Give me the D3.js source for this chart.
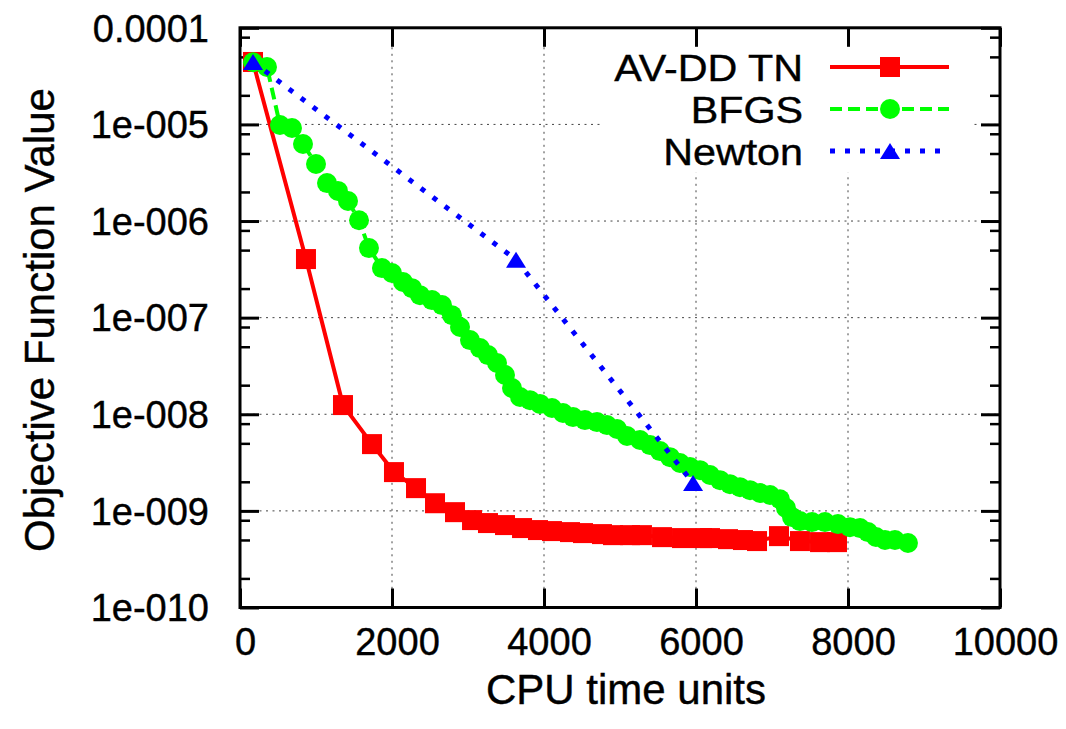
<!DOCTYPE html>
<html>
<head>
<meta charset="utf-8">
<script src="https://cdn.jsdelivr.net/npm/d3@7"></script>
<style>
  html, body { margin: 0; padding: 0; background: #fff; }
  svg { display: block; }
  text { font-family: "Liberation Sans", Arial, Helvetica, sans-serif; fill: #000; stroke: #000; stroke-width: 0.4px; }
</style>
</head>
<body>
<svg id="chart" width="1066" height="729"></svg>
<script>
// ---------- data ----------
const seriesNames = ["AV-DD TN", "BFGS", "Newton"];
const seriesColors = ["#ff0000", "#00ff00", "#0000ff"];

const avddX = [171, 868, 1355, 1737, 2026, 2316, 2566, 2829, 3053, 3263, 3487, 3711, 3921, 4105, 4342, 4513, 4763, 4908, 5132, 5289, 5553, 5816, 6079, 6184, 6421, 6618, 6803, 7092, 7368, 7632, 7855];
const avddY = [4.43e-5, 4.04e-7, 1.245e-8, 4.91e-9, 2.52e-9, 1.72e-9, 1.20e-9, 9.7e-10, 8.03e-10, 7.48e-10, 7.13e-10, 6.64e-10, 6.33e-10, 6.18e-10, 6.03e-10, 5.89e-10, 5.75e-10, 5.61e-10, 5.61e-10, 5.61e-10, 5.35e-10, 5.23e-10, 5.23e-10, 5.23e-10, 5.1e-10, 4.99e-10, 4.87e-10, 5.48e-10, 4.87e-10, 4.75e-10, 4.75e-10];

const bfgsX = [171, 355, 526, 684, 829, 1000, 1145, 1289, 1421, 1566, 1697, 1868, 2000, 2145, 2263, 2368, 2526, 2658, 2789, 2895, 3026, 3158, 3263, 3382, 3487, 3579, 3684, 3816, 3947, 4105, 4250, 4382, 4539, 4697, 4829, 4961, 5092, 5263, 5395, 5526, 5658, 5789, 5921, 6053, 6184, 6316, 6447, 6579, 6711, 6842, 6974, 7105, 7184, 7263, 7368, 7526, 7697, 7868, 8026, 8158, 8263, 8368, 8487, 8618, 8789];
const bfgsY = [4.4e-5, 3.93e-5, 9.86e-6, 9.18e-6, 6.27e-6, 3.89e-6, 2.47e-6, 2.05e-6, 1.61e-6, 1.02e-6, 5.25e-7, 3.26e-7, 2.90e-7, 2.34e-7, 2.02e-7, 1.71e-7, 1.52e-7, 1.35e-7, 1.06e-7, 8.0e-8, 5.86e-8, 4.84e-8, 4.10e-8, 3.39e-8, 2.55e-8, 1.87e-8, 1.51e-8, 1.40e-8, 1.28e-8, 1.16e-8, 1.03e-8, 9.35e-9, 8.7e-9, 8.3e-9, 7.72e-9, 7.03e-9, 5.95e-9, 5.41e-9, 4.8e-9, 4.16e-9, 3.6e-9, 3.13e-9, 2.84e-9, 2.64e-9, 2.35e-9, 2.08e-9, 1.89e-9, 1.76e-9, 1.64e-9, 1.53e-9, 1.46e-9, 1.32e-9, 1.07e-9, 8.63e-10, 7.84e-10, 7.66e-10, 7.66e-10, 7.3e-10, 6.79e-10, 6.64e-10, 6.03e-10, 5.36e-10, 4.99e-10, 4.99e-10, 4.65e-10];

const newtonX = [171, 3632, 5961];
const newtonY = [4.43e-5, 3.98e-7, 1.94e-9];

const xTicks = [0, 2000, 4000, 6000, 8000, 10000];
const xTickLabels = ["0", "2000", "4000", "6000", "8000", "10000"];
const yTicks = [1e-4, 1e-5, 1e-6, 1e-7, 1e-8, 1e-9, 1e-10];
const yTickLabels = ["0.0001", "1e-005", "1e-006", "1e-007", "1e-008", "1e-009", "1e-010"];
const yMinorMultipliers = [2, 5, 8];

const xTitle = "CPU time units";
const yTitle = "Objective Function Value";

// ---------- layout ----------
const L = 240, R = 1000, T = 27.8, B = 607.5;
const svg = d3.select("#chart");
const x = d3.scaleLinear().domain([0, 10000]).range([L, R]);
const y = d3.scaleLog().domain([1e-10, 1e-4]).range([B, T]);

const yMinor = [];
for (let e = -10; e < -4; e++) {
  yMinorMultipliers.forEach(m => yMinor.push(m * Math.pow(10, e)));
}

// gridlines
const grid = svg.append("g").attr("stroke", "#444").attr("stroke-width", 1).attr("stroke-dasharray", "2,4.5");
grid.selectAll(".gx").data(xTicks.slice(1, -1)).join("line")
  .attr("x1", d => x(d)).attr("x2", d => x(d)).attr("y1", T).attr("y2", B);
grid.selectAll(".gy").data(yTicks.slice(1, -1)).join("line")
  .attr("x1", L).attr("x2", R).attr("y1", d => y(d)).attr("y2", d => y(d));

// legend background (hides grid)
svg.append("rect").attr("x", 603).attr("y", T + 1).attr("width", 370).attr("height", 144).attr("fill", "#fff");

// axes
function styleAxis(g, sw) {
  g.select(".domain").remove();
  g.selectAll(".tick line").attr("stroke", "#000").attr("stroke-width", sw);
}
const fs = 38;
const gx = svg.append("g").attr("transform", `translate(0,${B})`)
  .call(d3.axisBottom(x).tickValues(xTicks).tickFormat((d, i) => xTickLabels[i]).tickSize(-19).tickPadding(21));
styleAxis(gx, 3);
gx.selectAll("text").attr("font-size", fs).attr("dx", 5);

svg.append("g").attr("transform", `translate(0,${T})`)
  .call(d3.axisTop(x).tickValues(xTicks).tickFormat("").tickSize(-19)).call(g => styleAxis(g, 3));

const gy = svg.append("g").attr("transform", `translate(${L},0)`)
  .call(d3.axisLeft(y).tickValues(yTicks).tickFormat((d, i) => yTickLabels[i]).tickSize(-19).tickPadding(31));
styleAxis(gy, 3);
gy.selectAll("text").attr("font-size", fs).attr("dy", "0.35em");

svg.append("g").attr("transform", `translate(${L},0)`)
  .call(d3.axisLeft(y).tickValues(yMinor).tickFormat("").tickSize(-10)).call(g => styleAxis(g, 2.5));
svg.append("g").attr("transform", `translate(${R},0)`)
  .call(d3.axisRight(y).tickValues(yTicks).tickFormat("").tickSize(-19)).call(g => styleAxis(g, 3));
svg.append("g").attr("transform", `translate(${R},0)`)
  .call(d3.axisRight(y).tickValues(yMinor).tickFormat("").tickSize(-10)).call(g => styleAxis(g, 2.5));

svg.selectAll("g text").attr("font-family", "Liberation Sans, Arial, sans-serif").attr("fill", "#000");

// border
svg.append("rect").attr("x", L).attr("y", T).attr("width", R - L).attr("height", B - T)
  .attr("fill", "none").attr("stroke", "#000").attr("stroke-width", 3);

// titles
const titleFs = 42;
svg.append("text").attr("x", 626).attr("y", 704).attr("text-anchor", "middle").attr("font-size", titleFs).text(xTitle);
svg.append("text").attr("transform", "translate(54,320) rotate(-90)").attr("text-anchor", "middle").attr("font-size", titleFs).text(yTitle);

// series
const line = d3.line().x(d => x(d[0])).y(d => y(d[1]));
const avdd = avddX.map((v, i) => [v, avddY[i]]);
const bfgs = bfgsX.map((v, i) => [v, bfgsY[i]]);
const newton = newtonX.map((v, i) => [v, newtonY[i]]);

const sqSize = 20, circR = 10;
const triPath = (cx, cy) => `M${cx},${cy - 8}L${cx + 10},${cy + 8}L${cx - 10},${cy + 8}Z`;

// AV-DD TN
svg.append("path").datum(avdd).attr("d", line).attr("fill", "none")
  .attr("stroke", seriesColors[0]).attr("stroke-width", 4);
svg.append("g").selectAll("rect").data(avdd).join("rect")
  .attr("x", d => x(d[0]) - sqSize / 2).attr("y", d => y(d[1]) - sqSize / 2)
  .attr("width", sqSize).attr("height", sqSize).attr("fill", seriesColors[0]);

// BFGS
svg.append("path").datum(bfgs).attr("d", line).attr("fill", "none")
  .attr("stroke", seriesColors[1]).attr("stroke-width", 4).attr("stroke-dasharray", "12,6");
svg.append("g").selectAll("circle").data(bfgs).join("circle")
  .attr("cx", d => x(d[0])).attr("cy", d => y(d[1])).attr("r", circR).attr("fill", seriesColors[1]);

// Newton
svg.append("path").datum(newton).attr("d", line).attr("fill", "none")
  .attr("stroke", seriesColors[2]).attr("stroke-width", 5).attr("stroke-dasharray", "5,10");
svg.append("g").selectAll("path").data(newton).join("path")
  .attr("d", d => triPath(x(d[0]), y(d[1]))).attr("fill", seriesColors[2]);

// legend
const legRows = [67, 109, 151];
const legX1 = 830, legX2 = 949, legM = 890;
seriesNames.forEach((name, i) => {
  const cy = legRows[i];
  svg.append("text").attr("transform", `translate(803,${cy}) scale(1.1,1)`).attr("dy", "0.37em").attr("text-anchor", "end")
    .attr("font-size", 37.5).text(name);
  const ln = svg.append("line").attr("x1", legX1).attr("x2", i === 2 ? 943 : legX2).attr("y1", cy).attr("y2", cy)
    .attr("stroke", seriesColors[i]);
  if (i === 0) ln.attr("stroke-width", 4);
  if (i === 1) ln.attr("stroke-width", 4).attr("stroke-dasharray", "12,6");
  if (i === 2) ln.attr("stroke-width", 5).attr("stroke-dasharray", "5,10");
  if (i === 0) svg.append("rect").attr("x", legM - 10).attr("y", cy - 10).attr("width", 20).attr("height", 20).attr("fill", seriesColors[0]);
  if (i === 1) svg.append("circle").attr("cx", legM).attr("cy", cy).attr("r", 10).attr("fill", seriesColors[1]);
  if (i === 2) svg.append("path").attr("d", triPath(legM, cy)).attr("fill", seriesColors[2]);
});
</script>
</body>
</html>
